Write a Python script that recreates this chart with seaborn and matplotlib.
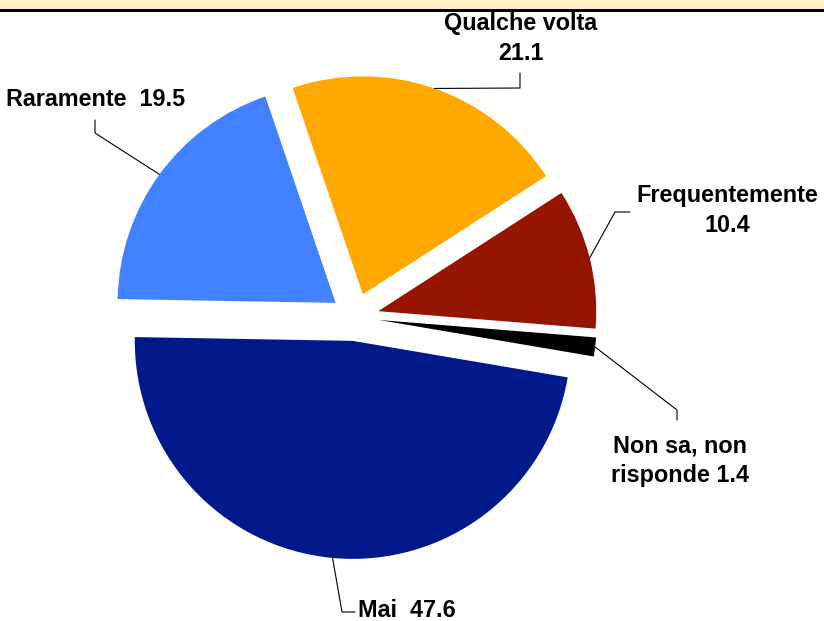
import numpy as np
import matplotlib
matplotlib.use("Agg")
import matplotlib.pyplot as plt
import seaborn as sns
from matplotlib.patches import Rectangle

# ---- data ----
categories = ["Mai", "Non sa, non risponde", "Frequentemente", "Qualche volta", "Raramente"]
values = [47.6, 1.4, 10.4, 21.1, 19.5]
label_texts = ["Mai  47.6", "Non sa, non\nrisponde 1.4", "Frequentemente\n10.4",
               "Qualche volta\n21.1", "Raramente  19.5"]
colors = ["#02198C", "#000000", "#951500", "#FFA900", "#4281FF"]

sns.set_theme(style="white")
plt.rcParams['font.family'] = ['Liberation Sans', 'DejaVu Sans']

W, H = 824, 621
fig = plt.figure(figsize=(W / 100, H / 100), dpi=100)
ax = fig.add_axes([0, 0, 1, 1])

def P(x, y):
    return (x, H - y)

cx, cy = 355, 317
R = 218
explode_frac = 0.11
wedges, _ = ax.pie(values, colors=sns.color_palette(colors), startangle=179,
                   counterclock=True, explode=[explode_frac * R] * len(values), radius=R,
                   center=P(cx, cy), wedgeprops=dict(linewidth=0, antialiased=True))
ax.set_xlim(0, W)
ax.set_ylim(0, H)
ax.set_aspect('auto')
ax.axis('off')

# header band
ax.add_patch(Rectangle((0, H - 9.5), W, 9.5, facecolor="#FFF1C2", edgecolor="none", zorder=5))
ax.add_patch(Rectangle((0, H - 11.5), W, 2.5, facecolor="black", edgecolor="none", zorder=6))

# label layout: (elbow points in pixels, text anchor = baseline of last line, ha)
layout = [
    dict(path=[(342, 612), (355, 612)], xy=(358, 617), ha='left'),
    dict(path=[(677, 410), (677, 420)], xy=(680, 482), ha='center'),
    dict(path=[(615, 212), (630, 212)], xy=(727, 232), ha='center'),
    dict(path=[(520, 88), (520, 73)], xy=(521, 60), ha='center'),
    dict(path=[(95, 133), (95, 120)], xy=(185, 106), ha='right'),
]

for w, txt, lay in zip(wedges, label_texts, layout):
    mid = np.deg2rad((w.theta1 + w.theta2) / 2)
    ax_, ay_ = w.center
    anchor = (ax_ + w.r * np.cos(mid), ay_ + w.r * np.sin(mid))
    pts = [anchor] + [P(*p) for p in lay['path']]
    xs, ys = zip(*pts)
    ax.plot(xs, ys, color="black", lw=0.8, zorder=4)
    ax.text(*P(*lay['xy']), txt, ha=lay['ha'], va='baseline', fontsize=16.8,
            fontweight='bold', color='black', linespacing=1.38)

fig.savefig("out.png", dpi=100)
